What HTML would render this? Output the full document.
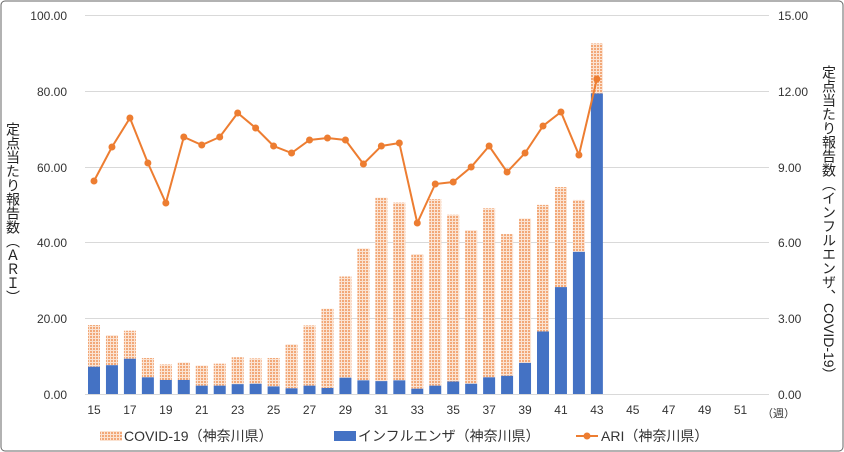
<!DOCTYPE html>
<html><head><meta charset="utf-8"><style>
body{margin:0;background:#fff;}
.wrap{position:relative;width:844px;height:452px;overflow:hidden;font-family:"Liberation Sans","Noto Sans CJK JP",sans-serif;}
.vt{position:absolute;writing-mode:vertical-rl;font-size:14px;color:#222;line-height:16px;letter-spacing:0px;}
</style></head><body><div class="wrap">
<svg width="844" height="452" style="position:absolute;left:0;top:0" font-family="Liberation Sans, Noto Sans CJK JP, sans-serif">
<defs><pattern id="p" width="3" height="3" patternUnits="userSpaceOnUse"><rect width="3" height="3" fill="#fbe3d2"/><rect x="0" y="0" width="2" height="2" fill="#f2a878"/></pattern></defs>
<rect x="1" y="1" width="842" height="450" rx="4" fill="#fff" stroke="#666"/>
<g stroke="#d9d9d9" stroke-width="1">
<line x1="85" y1="15.5" x2="769" y2="15.5"/><line x1="85" y1="91.5" x2="769" y2="91.5"/><line x1="85" y1="167.5" x2="769" y2="167.5"/><line x1="85" y1="242.5" x2="769" y2="242.5"/><line x1="85" y1="318.5" x2="769" y2="318.5"/><line x1="85" y1="394.5" x2="769" y2="394.5"/>
</g>
<g font-size="12" fill="#333" text-anchor="end">
<text x="67" y="20">100.00</text><text x="67" y="96">80.00</text><text x="67" y="172">60.00</text><text x="67" y="247">40.00</text><text x="67" y="323">20.00</text><text x="67" y="399">0.00</text>
</g>
<g font-size="12" fill="#333" text-anchor="start">
<text x="778" y="20">15.00</text><text x="778" y="96">12.00</text><text x="778" y="172">9.00</text><text x="778" y="247">6.00</text><text x="778" y="323">3.00</text><text x="778" y="399">0.00</text>
</g>
<g id="bars"></g>
<g font-size="12" fill="#333" text-anchor="middle" id="xl"></g>
<text x="762" y="417" font-size="11" fill="#333">（週）</text>
<polyline id="ln" fill="none" stroke="#ed7d31" stroke-width="2"/>
<g id="dots" fill="#ed7d31"></g>
<rect x="100" y="431" width="22" height="10" fill="url(#p)"/>
<text x="124" y="441" font-size="14" fill="#333">COVID-19（神奈川県）</text>
<rect x="334" y="431" width="22" height="10" fill="#4472c4"/>
<text x="358" y="441" font-size="14" fill="#333">インフルエンザ（神奈川県）</text>
<line x1="576" y1="436" x2="598" y2="436" stroke="#ed7d31" stroke-width="2"/><circle cx="587" cy="436" r="3.5" fill="#ed7d31"/>
<text x="601" y="441" font-size="14" fill="#333">ARI（神奈川県）</text>
</svg>
<div class="vt" style="left:5px;top:122px;">定点当たり報告数（ＡＲＩ）</div>
<div class="vt" style="left:821px;top:65px;">定点当たり報告数（インフルエンザ、COVID-19）</div>
</div>
<script>
var tot=[18.2,15.5,16.7,9.5,7.8,8.3,7.5,8,9.7,9.4,9.5,13.1,18.1,22.5,31,38.4,51.8,50.5,36.9,51.4,47.3,43.2,49,42.2,46.3,49.9,54.6,51.2,92.5];
var blu=[7.2,7.6,9.3,4.4,3.7,3.7,2.2,2.2,2.6,2.7,2.0,1.5,2.2,1.6,4.3,3.6,3.4,3.6,1.4,2.2,3.3,2.7,4.4,4.8,8.2,16.5,28.2,37.5,79.3];
var ari=[181,147,118,163,203,137,145,137,113,128,146,153,140,138,140,164,146,143,223,184,182,167,146,172,153,126,112,155,79];
var ns="http://www.w3.org/2000/svg",b=document.getElementById('bars'),s=3.79,pts=[],d=document.getElementById('dots'),xl=document.getElementById('xl');
function el(t,a,p){var e=document.createElementNS(ns,t);for(var k in a)e.setAttribute(k,a[k]);p.appendChild(e);return e;}
for(var i=0;i<38;i++){var cx=94+i*17.96;
 if(i%2==0){var t=el('text',{x:cx,y:414},xl);t.textContent=15+i;}
 if(i<tot.length){
  el('rect',{x:cx-6,y:394-tot[i]*s,width:12,height:(tot[i]-blu[i])*s,fill:'url(#p)'},b);
  el('rect',{x:cx-6,y:394-blu[i]*s,width:12,height:blu[i]*s,fill:'#4472c4'},b);
  pts.push(cx+','+ari[i]);el('circle',{cx:cx,cy:ari[i],r:3.5},d);}
}
document.getElementById('ln').setAttribute('points',pts.join(' '));
</script>
</body></html>
